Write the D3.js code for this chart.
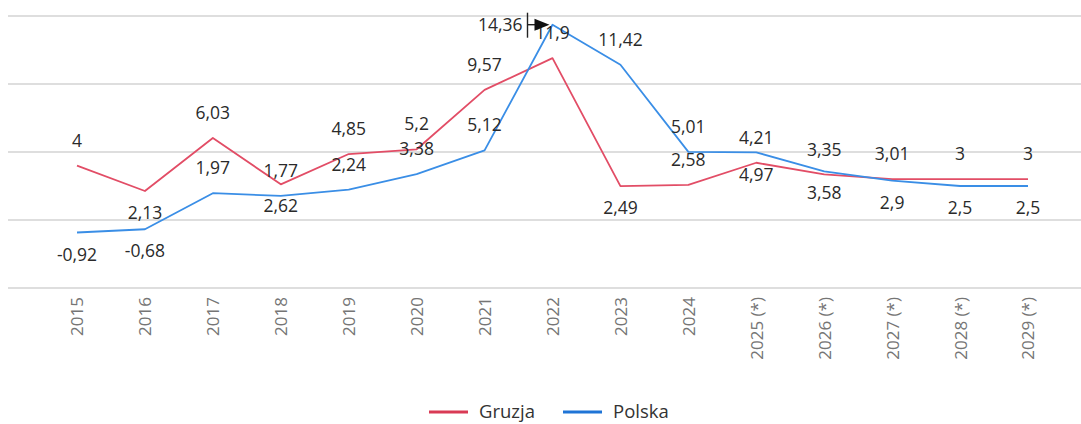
<!DOCTYPE html>
<html>
<head>
<meta charset="utf-8">
<script src="https://cdn.jsdelivr.net/npm/d3@7"></script>
<style>
  body { margin: 0; background: #fff; }
  svg { display: block; font-family: "Open Sans", "Noto Sans", sans-serif; }
</style>
</head>
<body>
<div id="chart"></div>
<script>
var years = ["2015", "2016", "2017", "2018", "2019", "2020", "2021", "2022", "2023", "2024",
	"2025 (*)", "2026 (*)", "2027 (*)", "2028 (*)", "2029 (*)"];
var gruzja = [4, 2.13, 6.03, 2.62, 4.85, 5.2, 9.57, 11.9, 2.49, 2.58, 4.21, 3.35, 3.01, 3, 3];
var polska = [-0.92, -0.68, 1.97, 1.77, 2.24, 3.38, 5.12, 14.36, 11.42, 5.01, 4.97, 3.58, 2.9, 2.5, 2.5];
var gridTicks = [-5, 0, 5, 10, 15];

// where each value label sits: a = above, b = below, l = left of the point
var gruzjaPos = ["a","b","a","b","a","a","a","a","b","a","a","a","a","a","a"];
var polskaPos = ["b","b","a","a","a","a","a","l","a","a","b","b","b","b","b"];

var width = 1081, height = 424;
var red = "#e24d66", blue = "#3a8ee6";

var svg = d3.select("#chart").append("svg")
	.attr("width", width)
	.attr("height", height);

var x = d3.scalePoint().domain(years).range([77, 1028]);
var y = d3.scaleLinear().domain([-5, 15]).range([288, 16]);

// grid
svg.append("g").selectAll("line")
	.data(gridTicks)
	.enter()
	.append("line")
	.attr("x1", 8)
	.attr("x2", width)
	.attr("y1", function(d) { return y(d); })
	.attr("y2", function(d) { return y(d); })
	.style("stroke", "#dedede")
	.style("stroke-width", 1.8);

// x axis labels
var xAxis = d3.axisBottom(x).tickSize(0).tickPadding(0);
var ax = svg.append("g")
	.attr("transform", "translate(0,297)")
	.call(xAxis);
ax.select(".domain").remove();
ax.selectAll("text")
	.attr("transform", "rotate(-90)")
	.attr("x", 0)
	.attr("y", 0)
	.attr("dy", "0.35em")
	.style("text-anchor", "end")
	.style("font-family", "\"Open Sans\", sans-serif")
	.style("font-size", "17px")
	.style("fill", "#757575");

var line = d3.line()
	.x(function(d, i) { return x(years[i]); })
	.y(function(d) { return y(d); });

var series = [
	{name: "Gruzja", values: gruzja, pos: gruzjaPos, color: red},
	{name: "Polska", values: polska, pos: polskaPos, color: blue}
];

series.forEach(function(s) {
	svg.append("path")
		.datum(s.values)
		.attr("d", line)
		.style("fill", "none")
		.style("stroke", s.color)
		.style("stroke-width", 1.8)
		.style("stroke-linejoin", "round");
});

// value labels
series.forEach(function(s) {
	svg.append("g").selectAll("text")
		.data(s.values)
		.enter()
		.append("text")
		.attr("x", function(d, i) {
			return s.pos[i] === "l" ? x(years[i]) - 30 : x(years[i]);
		})
		.attr("y", function(d, i) {
			if (s.pos[i] === "a") return y(d) - 25;
			if (s.pos[i] === "b") return y(d) + 22;
			return y(d);
		})
		.attr("dy", "0.35em")
		.attr("text-anchor", function(d, i) { return s.pos[i] === "l" ? "end" : "middle"; })
		.style("font-size", "17.5px")
		.style("fill", "#2a2a2a")
		.text(function(d) { return String(d).replace(".", ","); });
});

// hover cursor caught on the 2022 point
var cx = x("2022"), cy = y(polska[7]);
var cur = svg.append("g").style("stroke", "#222").style("fill", "#111");
cur.append("line")
	.attr("x1", cx - 25).attr("x2", cx - 25)
	.attr("y1", cy - 12).attr("y2", cy + 13)
	.style("stroke-width", 1.4);
cur.append("line")
	.attr("x1", cx - 25).attr("x2", cx - 14)
	.attr("y1", cy).attr("y2", cy)
	.style("stroke-width", 1.4);
cur.append("path")
	.attr("d", "M" + (cx - 18) + "," + (cy - 6) + "L" + (cx - 3) + "," + cy + "L" + (cx - 18) + "," + (cy + 6) + "Z")
	.style("stroke", "none");

// legend
var legend = svg.append("g").attr("transform", "translate(429,412)");
var items = legend.selectAll("g")
	.data(series)
	.enter()
	.append("g")
	.attr("transform", function(d, i) { return "translate(" + (i * 134) + ",0)"; });
items.append("line")
	.attr("x1", 0).attr("x2", 39)
	.attr("y1", 0).attr("y2", 0)
	.style("stroke", function(d) { return d.name === "Gruzja" ? "#d93a55" : "#1f74d6"; })
	.style("stroke-width", 3);
items.append("text")
	.attr("x", 50)
	.attr("y", 0)
	.attr("dy", "0.32em")
	.style("font-size", "18.5px")
	.style("fill", "#333")
	.text(function(d) { return d.name; });
</script>
</body>
</html>
